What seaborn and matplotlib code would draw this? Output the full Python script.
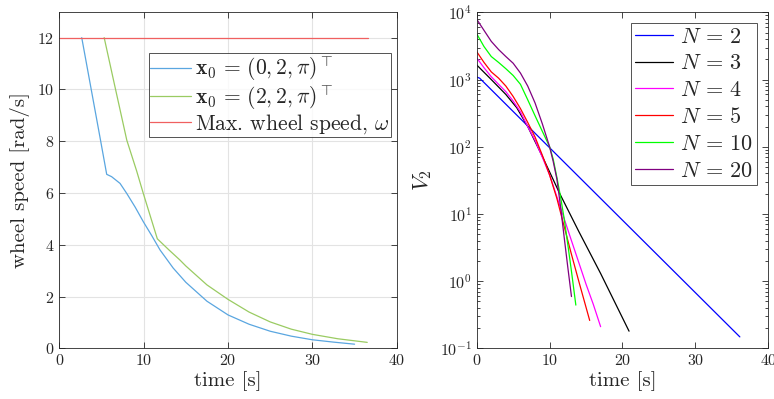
import numpy as np
import pandas as pd
import matplotlib
matplotlib.use("Agg")
import matplotlib.pyplot as plt
import seaborn as sns
from matplotlib.ticker import LogLocator, NullFormatter

# ---- left panel data ----
t_a = [2.66, 4.83, 5.62, 6.2, 7.2, 8.0, 9.0, 9.96, 11.0, 11.94, 13.5, 15.0, 17.5, 20.0, 22.5, 25.0, 27.5, 30.0, 32.5, 35.0]
w_a = [12.0, 8.14, 6.72, 6.63, 6.37, 5.98, 5.45, 4.89, 4.33, 3.80, 3.10, 2.55, 1.82, 1.29, 0.93, 0.66, 0.47, 0.33, 0.24, 0.16]
t_b = [5.32, 6.5, 8.0, 9.17, 9.96, 11.62, 13.0, 14.3, 15.0, 17.5, 20.0, 22.5, 25.0, 27.5, 30.0, 33.0, 36.5]
w_b = [12.0, 10.25, 8.04, 6.85, 5.98, 4.23, 3.80, 3.41, 3.18, 2.45, 1.89, 1.40, 1.02, 0.74, 0.54, 0.37, 0.23]
t_max = [0.0, 36.6]
w_max = [12.0, 12.0]
labels_left = [r"$\mathbf{x}_0\,=\,(0, 2, \pi)^\top$",
               r"$\mathbf{x}_0\,=\,(2, 2, \pi)^\top$",
               r"Max. wheel speed, $\omega$"]

# ---- right panel data ----
t_n2 = [0.0, 0.4, 36.1]
v_n2 = [1090, 1050, 0.148]
t_n3 = [0.0, 2.0, 4.0, 5.5, 7.0, 9.0, 11.4, 14.0, 17.0, 20.9]
v_n3 = [1650, 1000, 600, 380, 200, 72, 20, 5.5, 1.3, 0.18]
t_n4 = [0.0, 1.0, 2.0, 3.0, 4.0, 5.0, 6.0, 7.0, 8.0, 9.0, 10.0, 11.0, 12.0, 13.0, 14.0, 15.0, 16.0, 17.0]
v_n4 = [2100, 1500, 1100, 850, 660, 480, 330, 200, 125, 70, 38, 18, 8.5, 4.0, 1.9, 0.9, 0.45, 0.21]
t_n5 = [0.0, 1.0, 2.0, 3.0, 4.0, 5.0, 6.0, 7.0, 8.0, 9.0, 10.0, 11.0, 12.0, 13.0, 14.0, 15.5]
v_n5 = [2600, 1800, 1300, 1050, 800, 560, 370, 230, 140, 75, 38, 17, 6.5, 2.5, 1.0, 0.26]
t_n10 = [0.0, 1.0, 2.0, 3.0, 4.0, 5.0, 6.0, 7.0, 8.0, 9.0, 10.0, 10.5, 11.0, 11.5, 12.0, 12.5, 13.0, 13.6]
v_n10 = [4800, 3100, 2200, 1800, 1450, 1150, 850, 500, 290, 170, 100, 65, 35, 18, 8.5, 3.5, 1.4, 0.44]
t_n20 = [0.0, 1.0, 2.0, 3.0, 4.0, 5.0, 6.0, 7.0, 8.0, 9.0, 10.0, 10.5, 11.0, 11.5, 12.0, 12.5, 13.0]
v_n20 = [7900, 5400, 3700, 2800, 2200, 1750, 1250, 800, 450, 220, 100, 60, 33, 13, 4.5, 1.6, 0.59]
labels_right = [r"$N\,=\,2$", r"$N\,=\,3$", r"$N\,=\,4$", r"$N\,=\,5$", r"$N\,=\,10$", r"$N\,=\,20$"]

sns.set_style("ticks")
plt.rcParams.update({
    "font.family": ["serif"],
    "font.serif": ["cmr10", "DejaVu Serif"],
    "mathtext.fontset": "cm",
    "axes.formatter.use_mathtext": True,
    "axes.unicode_minus": False,
    "axes.edgecolor": "#262626",
    "xtick.color": "#262626",
    "ytick.color": "#262626",
    "xtick.direction": "in",
    "ytick.direction": "in",
})

fig = plt.figure(figsize=(7.74, 3.99), dpi=100)
ax1 = fig.add_axes([0.0766, 0.127, 0.436, 0.8436])
ax2 = fig.add_axes([0.6159, 0.127, 0.3767, 0.842])

# left panel
left_colors = ["#5aa6e0", "#9acb62", "#f06060"]
for (tx, wy), c, lab in zip([(t_a, w_a), (t_b, w_b), (t_max, w_max)], left_colors, labels_left):
    sns.lineplot(x=tx, y=wy, ax=ax1, color=c, lw=0.9, label=lab, sort=False)
ax1.set_xlim(0, 40)
ax1.set_ylim(0, 13)
ax1.set_xticks([0, 10, 20, 30, 40])
ax1.set_yticks([0, 2, 4, 6, 8, 10, 12])
ax1.grid(True, color="#e3e3e3", lw=0.8)
ax1.set_axisbelow(True)
ax1.tick_params(axis="both", which="both", top=True, right=True, labelsize=11.5, length=4, width=0.6)
ax1.set_xlabel("time [s]", fontsize=15, labelpad=2)
ax1.set_ylabel("wheel speed [rad/s]", fontsize=15, labelpad=5)
for s in ax1.spines.values():
    s.set_linewidth(0.6)
leg1 = ax1.legend(loc="upper right", bbox_to_anchor=(0.983, 0.877), fontsize=15.5,
                  frameon=True, fancybox=False, edgecolor="#262626",
                  handlelength=1.9, handletextpad=0.2, borderpad=0.06, labelspacing=0.0,
                  borderaxespad=0)
leg1.get_frame().set_linewidth(0.7)
for line in leg1.get_lines():
    line.set_linewidth(0.9)

# right panel
right_data = [(t_n2, v_n2), (t_n3, v_n3), (t_n4, v_n4), (t_n5, v_n5), (t_n10, v_n10), (t_n20, v_n20)]
right_colors = ["#0000ff", "#000000", "#ff00ff", "#ff0000", "#00ff00", "#800080"]
for (tx, vy), c, lab in zip(right_data, right_colors, labels_right):
    sns.lineplot(x=tx, y=vy, ax=ax2, color=c, lw=0.9, label=lab, sort=False)
ax2.set_yscale("log")
ax2.set_xlim(0, 40)
ax2.set_ylim(1e-1, 1e4)
ax2.set_xticks([0, 10, 20, 30, 40])
ax2.yaxis.set_major_locator(LogLocator(base=10, numticks=10))
ax2.yaxis.set_minor_locator(LogLocator(base=10, subs=np.arange(2, 10), numticks=20))
ax2.yaxis.set_minor_formatter(NullFormatter())
ax2.tick_params(axis="both", which="both", top=True, right=True, labelsize=11.5, width=0.6)
ax2.tick_params(axis="both", which="major", length=4)
ax2.tick_params(axis="y", which="minor", length=2.5)
ax2.set_xlabel("time [s]", fontsize=15, labelpad=2)
ax2.set_ylabel(r"$V_2$", fontsize=16, labelpad=4)
for s in ax2.spines.values():
    s.set_linewidth(0.6)
leg2 = ax2.legend(loc="upper right", bbox_to_anchor=(0.961, 0.969), fontsize=16,
                  frameon=True, fancybox=False, edgecolor="#262626",
                  handlelength=1.7, handletextpad=0.3, borderpad=0.2, labelspacing=0.32,
                  borderaxespad=0)
leg2.get_frame().set_linewidth(0.7)
for line in leg2.get_lines():
    line.set_linewidth(0.9)

fig.savefig("out.png", dpi=100)
